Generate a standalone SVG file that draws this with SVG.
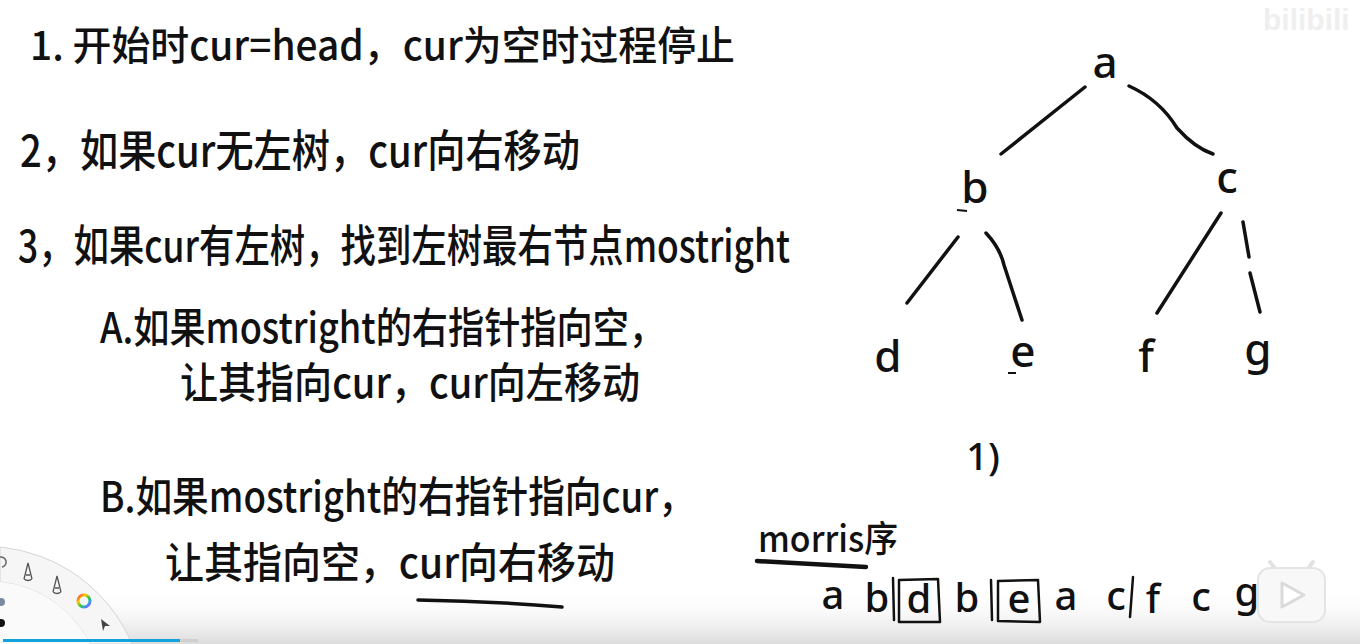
<svg xmlns="http://www.w3.org/2000/svg" width="1360" height="644" viewBox="0 0 1360 644">
<style>
.hw{font-family:"Noto Sans CJK SC","Noto Sans",sans-serif;fill:#111;font-weight:500}
.lt{font-family:"Noto Sans","Liberation Sans",sans-serif;fill:#111;text-anchor:middle;font-weight:500}
.ln{fill:none;stroke:#111;stroke-width:3.5;stroke-linecap:round;stroke-linejoin:round}
.box{fill:none;stroke:#111;stroke-width:2.5;stroke-linecap:round;stroke-linejoin:round}
</style>
<defs>
<linearGradient id="fade" x1="0" y1="0" x2="0" y2="1">
<stop offset="0" stop-color="#ffffff" stop-opacity="0"/>
<stop offset="1" stop-color="#dcdcdc" stop-opacity="1"/>
</linearGradient>
<linearGradient id="rainbow" x1="0" y1="0" x2="1" y2="1">
<stop offset="0" stop-color="#f33"/>
<stop offset="0.3" stop-color="#fc0"/>
<stop offset="0.55" stop-color="#3c3"/>
<stop offset="0.8" stop-color="#39f"/>
<stop offset="1" stop-color="#c3f"/>
</linearGradient>
</defs>
<rect x="0" y="0" width="1360" height="644" fill="#ffffff"/>
<rect x="0" y="588" width="1360" height="56" fill="url(#fade)"/>
<text x="1263" y="30" font-family="Liberation Sans, sans-serif" font-weight="bold" font-size="30" fill="#efefef">bilibili</text>

<g id="notes">
<text id="step1" class="hw" x="30" y="60" font-size="40" textLength="705" lengthAdjust="spacingAndGlyphs">1. 开始时cur=head，cur为空时过程停止</text>
<text id="step2" class="hw" x="20" y="167" font-size="44" textLength="560" lengthAdjust="spacingAndGlyphs">2，如果cur无左树，cur向右移动</text>
<text id="step3" class="hw" x="18" y="262" font-size="44" textLength="772" lengthAdjust="spacingAndGlyphs">3，如果cur有左树，找到左树最右节点mostright</text>
<text id="stepA1" class="hw" x="100" y="343" font-size="42" textLength="565" lengthAdjust="spacingAndGlyphs">A.如果mostright的右指针指向空，</text>
<text id="stepA2" class="hw" x="180" y="398" font-size="42" textLength="460" lengthAdjust="spacingAndGlyphs">让其指向cur，cur向左移动</text>
<text id="stepB1" class="hw" x="100" y="512" font-size="42" textLength="595" lengthAdjust="spacingAndGlyphs">B.如果mostright的右指针指向cur，</text>
<text id="stepB2" class="hw" x="165" y="578" font-size="42" textLength="450" lengthAdjust="spacingAndGlyphs">让其指向空，cur向右移动</text>
<path class="ln" d="M418,600 Q490,601 562,607"/>
</g>

<g id="connectors">
<path class="ln" d="M1085,87 L1001,154"/>
<path class="ln" d="M1129,86 Q1160,100 1177,128 Q1195,148 1213,154"/>
<path class="ln" d="M958,237 L907,303"/>
<path class="ln" d="M986,233 Q1000,248 1004,265 L1022,320"/>
<path class="ln" d="M1221,213 L1157,313"/>
<path class="ln" d="M1243,222 L1249,257"/>
<path class="ln" d="M1250,273 L1260,312"/>
</g>

<g id="node-a"><text class="lt" x="1105" y="78" font-size="44">a</text></g>
<g id="node-b"><text class="lt" x="975" y="203" font-size="44">b</text><path d="M957,210 L967,211" stroke="#111" stroke-width="2"/></g>
<g id="node-c"><text class="lt" x="1227" y="193" font-size="44">c</text></g>
<g id="node-d"><text class="lt" x="888" y="372" font-size="44">d</text></g>
<g id="node-e"><text class="lt" x="1023" y="367" font-size="44">e</text><path d="M1008,373 L1016,373" stroke="#111" stroke-width="2"/></g>
<g id="node-f"><text class="lt" x="1146" y="372" font-size="44">f</text></g>
<g id="node-g"><text class="lt" x="1258" y="365" font-size="44">g</text></g>
<g id="label-1"><text class="lt" x="983" y="470" font-size="38">1)</text></g>

<g id="morris">
<text class="hw" x="758" y="552" font-size="36" textLength="140" lengthAdjust="spacingAndGlyphs">morris序</text>
<path d="M757,561 L866,567" fill="none" stroke="#111" stroke-width="4.5" stroke-linecap="round"/>
<text class="lt" x="833" y="609" font-size="40">a</text>
<text class="lt" x="877" y="612" font-size="40">b</text>
<path class="box" d="M893,578 L894,620"/>
<path class="box" d="M899,580 L938,579 L940,622 L899,622 Z"/>
<text class="lt" x="919" y="613" font-size="40">d</text>
<text class="lt" x="967" y="612" font-size="40">b</text>
<path class="box" d="M991,580 L992,620"/>
<path class="box" d="M998,581 L1038,580 L1040,622 L998,621 Z"/>
<text class="lt" x="1019" y="613" font-size="40">e</text>
<text class="lt" x="1066" y="610" font-size="40">a</text>
<text class="lt" x="1116" y="610" font-size="40">c</text>
<path class="box" d="M1133,577 L1130,617"/>
<text class="lt" x="1153" y="613" font-size="40">f</text>
<text class="lt" x="1201" y="611" font-size="40">c</text>
<text class="lt" x="1247" y="606" font-size="40">g</text>
</g>

<g id="play-icon">
<path d="M1277,571 L1270,562 M1306,571 L1313,562" stroke="#e2e2e2" stroke-width="4" stroke-linecap="round"/>
<rect x="1258" y="568" width="67" height="54" rx="12" fill="#f8f8f8" stroke="#e4e4e4" stroke-width="2"/>
<path d="M1282,583 L1304,595 L1282,607 Z" fill="#ffffff" stroke="#dadada" stroke-width="3" stroke-linejoin="round"/>
</g>

<g id="toolbar">
<path d="M0,547 A160,160 0 0 1 132,644 L90,644 A112,112 0 0 0 0,582 Z" fill="#f6f6f6" stroke="#d4d4d4" stroke-width="1"/>
<path d="M0,582 A112,112 0 0 1 90,644 L0,644 Z" fill="#fafafa"/>
<path d="M0,557 A5,5 0 0 1 2,567" fill="none" stroke="#666" stroke-width="1.5"/>
<path d="M24,579 L28,563 L32,579 M24,579 Q28,582 32,579 M26,575 L30,575" fill="none" stroke="#555" stroke-width="1.3"/>
<path d="M53,592 L57,576 L61,592 M53,592 Q57,595 61,592 M55,588 L59,588" fill="none" stroke="#555" stroke-width="1.3"/>
<circle cx="84" cy="601" r="6" fill="none" stroke="url(#rainbow)" stroke-width="3"/>
<path d="M101,619 L110,626 L105,626 L103,631 Z" fill="#444"/>
<circle cx="1" cy="602" r="4" fill="#7a8aa0"/>
<circle cx="1" cy="623" r="4" fill="#111"/>
<rect x="3" y="639" width="177" height="3" fill="#12a3dd"/>
<rect x="180" y="639" width="18" height="3" fill="#cfcfcf"/>
</g>
</svg>
